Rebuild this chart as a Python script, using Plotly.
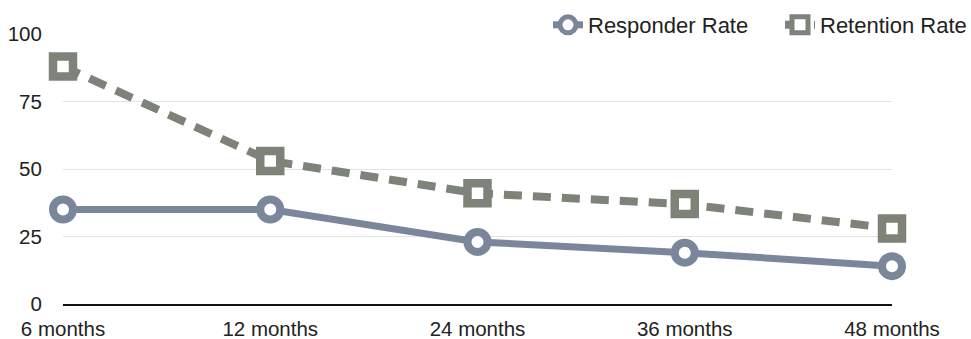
import plotly.graph_objects as go

# Follow-up time points and rates (%)
periods = ["6 months", "12 months", "24 months", "36 months", "48 months"]
responder_rate = [35, 35, 23, 19, 14]
retention_rate = [88, 53, 41, 37, 28]
y_ticks = [0, 25, 50, 75, 100]

RESP_COLOR = "#7a879b"
RET_COLOR = "#7d8378"
FONT = "Liberation Sans, Arial, sans-serif"

fig = go.Figure()

fig.add_trace(go.Scatter(
    x=periods, y=responder_rate, name="Responder Rate",
    mode="lines+markers",
    line=dict(color=RESP_COLOR, width=7),
    marker=dict(symbol="circle", size=20, color="white",
                line=dict(color=RESP_COLOR, width=8)),
    cliponaxis=False,
))

fig.add_trace(go.Scatter(
    x=periods, y=retention_rate, name="Retention Rate",
    mode="lines+markers",
    line=dict(color=RET_COLOR, width=8, dash="18px,11px"),
    marker=dict(symbol="square", size=20, color="white",
                line=dict(color=RET_COLOR, width=8.5)),
    cliponaxis=False,
))

fig.update_layout(
    width=971, height=339,
    margin=dict(l=63, r=79, t=34, b=35, autoexpand=False),
    paper_bgcolor="white", plot_bgcolor="white",
    font=dict(family=FONT, size=20.5, color="#222"),
    legend=dict(
        orientation="h", xref="container", yref="container",
        x=548 / 971, xanchor="left", y=1 - 25 / 339, yanchor="middle",
        font=dict(size=22, color="#222"),
        itemwidth=30, entrywidth=187, bgcolor="rgba(0,0,0,0)",
    ),
    showlegend=True,
)

fig.update_xaxes(
    type="category", range=[0, len(periods) - 1],
    showgrid=False, zeroline=False,
    showline=True, linecolor="#111", linewidth=2,
    ticks="outside", ticklen=5, tickcolor="rgba(0,0,0,0)",
    tickfont=dict(size=20.5, color="#222"),
)

fig.update_yaxes(
    range=[0, 100], tickvals=y_ticks,
    showgrid=True, gridcolor="#e2e2e2", gridwidth=1,
    zeroline=False, showline=False,
    ticks="outside", ticklen=16, tickcolor="rgba(0,0,0,0)",
    tickfont=dict(size=20.5, color="#222"),
)

fig.write_html("out.html")
